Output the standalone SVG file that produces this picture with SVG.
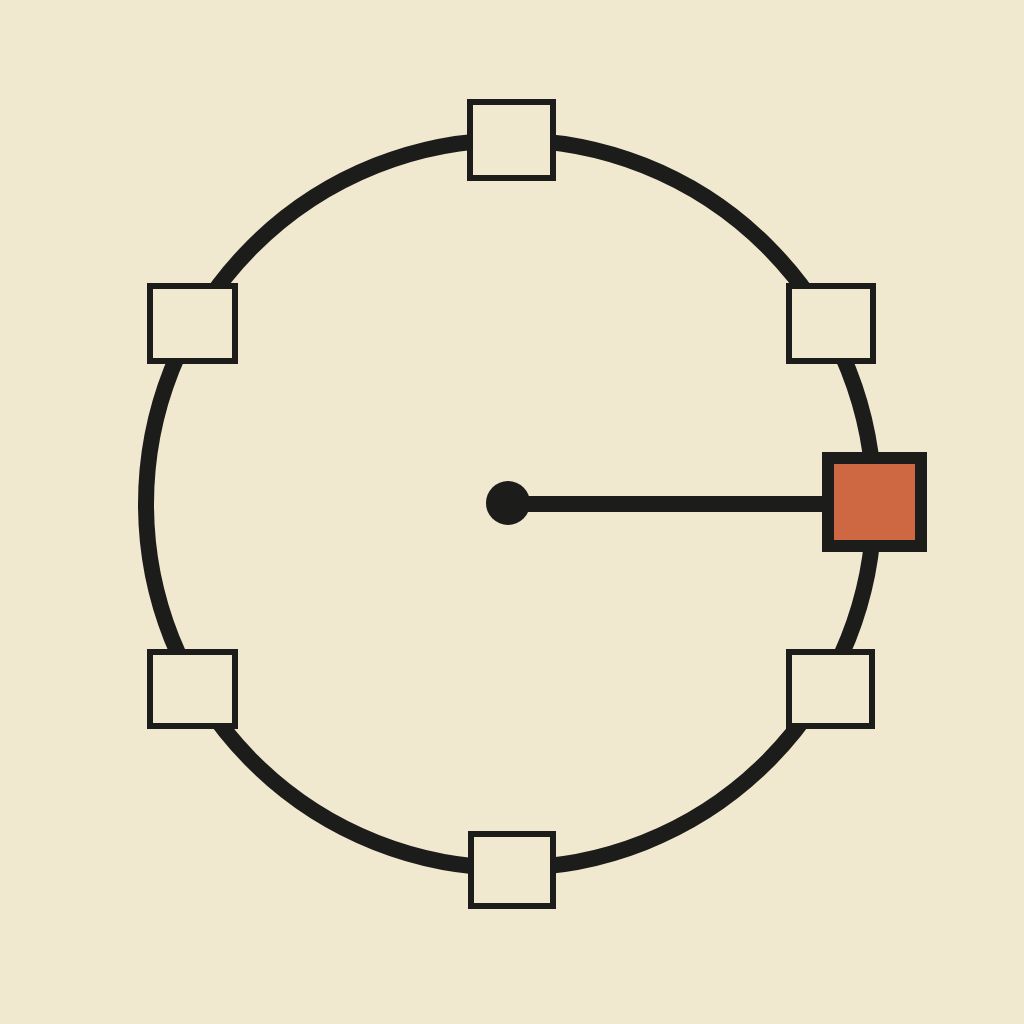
<svg xmlns="http://www.w3.org/2000/svg" width="1024" height="1024" viewBox="0 0 1024 1024">
<style>
.ring{fill:none;stroke:#1c1c1a;stroke-width:16}
.spoke{stroke:#1c1c1a;stroke-width:16;stroke-linecap:butt}
.box{fill:#f1e8d0;stroke:#1c1c1a;stroke-width:6}
.active{fill:#cd6842;stroke:#1c1c1a;stroke-width:12}
.hub{fill:#1c1c1a}
</style>
<rect width="1024" height="1024" fill="#f1e8d0"/>
<g id="connectors">
<circle class="ring" cx="510" cy="504" r="364"/>
<line class="spoke" x1="508" y1="504" x2="830" y2="504"/>
</g>
<g id="hub"><circle class="hub" cx="508" cy="503" r="22"/></g>
<g id="node-top"><rect class="box" x="470" y="102" width="83" height="76"/></g>
<g id="node-upper-right"><rect class="box" x="789" y="286" width="84" height="75"/></g>
<g id="node-right"><rect class="active" x="828" y="458" width="93" height="88"/></g>
<g id="node-lower-right"><rect class="box" x="789" y="652" width="83" height="74"/></g>
<g id="node-bottom"><rect class="box" x="471" y="834" width="82" height="72"/></g>
<g id="node-lower-left"><rect class="box" x="150" y="652" width="85" height="74"/></g>
<g id="node-upper-left"><rect class="box" x="150" y="286" width="85" height="75"/></g>
</svg>
